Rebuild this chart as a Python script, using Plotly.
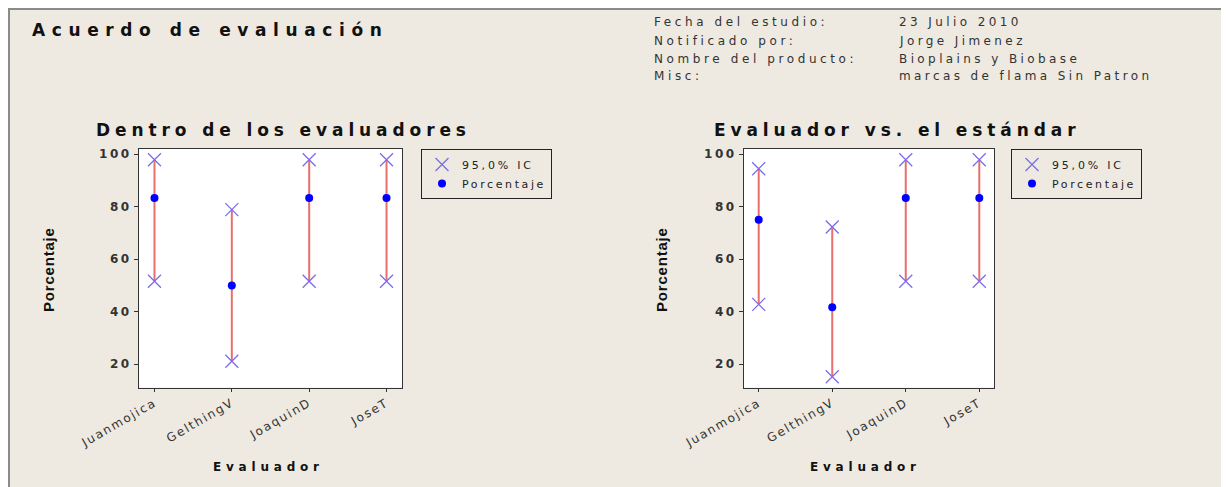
import plotly.graph_objects as go

# ---------------- data ----------------
evaluadores = ["Juanmojica", "GelthingV", "JoaquinD", "JoseT"]

dentro_pct = [83.3, 50.0, 83.3, 83.3]
dentro_lo = [51.6, 21.1, 51.6, 51.6]
dentro_hi = [97.9, 78.9, 97.9, 97.9]

estandar_pct = [75.0, 41.7, 83.3, 83.3]
estandar_lo = [42.8, 15.2, 51.6, 51.6]
estandar_hi = [94.5, 72.3, 97.9, 97.9]

y_ticks = [20, 40, 60, 80, 100]

info_labels = ["Fecha del estudio:", "Notificado por:", "Nombre del producto:", "Misc:"]
info_values = ["23 Julio 2010", "Jorge Jimenez", "Bioplains y Biobase", "marcas de flama Sin Patron"]

main_title = "Acuerdo de evaluación"
sub_titles = ["Dentro de los evaluadores", "Evaluador vs. el estándar"]
legend_names = ["95,0% IC", "Porcentaje"]

# ---------------- style ----------------
OFF = 8                      # page body margin
W, H = 1229 - OFF, 487 - OFF
BG = "#EEEAE1"
LINE_RED = "#E8706C"
X_COL = "#7B6EE8"
DOT_COL = "#0000FF"
FONT = "DejaVu Sans, Verdana, sans-serif"


def sp(text, spacing):
    return f"<span style='letter-spacing:{spacing}px'>{text}</span>"


def px(x):
    return (x - OFF) / W


def py(y):
    return 1 - (y - OFF) / H


fig = go.Figure()

panels = [
    (dentro_pct, dentro_lo, dentro_hi, "x", "y", "legend"),
    (estandar_pct, estandar_lo, estandar_hi, "x2", "y2", "legend2"),
]

for pct, lo, hi, xa, ya, lg in panels:
    lx, ly = [], []
    for c, l, h in zip(evaluadores, lo, hi):
        lx += [c, c, None]
        ly += [l, h, None]
    fig.add_trace(go.Scatter(
        x=lx, y=ly, mode="lines", line=dict(color=LINE_RED, width=2),
        showlegend=False, xaxis=xa, yaxis=ya, hoverinfo="skip"))
    fig.add_trace(go.Scatter(
        x=evaluadores + evaluadores, y=lo + hi, mode="markers",
        marker=dict(symbol="x-thin", size=13, line=dict(color=X_COL, width=1.3)),
        name=sp(legend_names[0], 2.8), legend=lg, xaxis=xa, yaxis=ya))
    fig.add_trace(go.Scatter(
        x=evaluadores, y=pct, mode="markers",
        marker=dict(symbol="circle", size=8, color=DOT_COL),
        name=sp(legend_names[1], 2.6), legend=lg, xaxis=xa, yaxis=ya))

xdomains = [[px(139), px(402)], [px(744), px(994)]]
ydomain = [py(387.5), py(148.5)]

axis_common = dict(showline=True, mirror=True, linecolor="#333333", linewidth=1,
                   showgrid=False, zeroline=False, ticks="outside",
                   tickcolor="#333333", automargin=False)

layout = dict(
    width=W, height=H,
    margin=dict(l=0, r=0, t=0, b=0, autoexpand=False),
    paper_bgcolor=BG, plot_bgcolor="white",
    font=dict(family=FONT, color="#222222"),
    showlegend=True,
)

tick_text_y = [sp(str(v), 2.5) for v in y_ticks]
tick_text_x = [sp(c, 1.8) for c in evaluadores]

for i, suffix in enumerate(["", "2"]):
    layout["xaxis" + suffix] = dict(
        axis_common, domain=xdomains[i], anchor="y" + suffix,
        type="category", categoryorder="array", categoryarray=evaluadores,
        range=[-0.2, 3.2], ticklen=3, tickangle=-30,
        tickvals=evaluadores, ticktext=tick_text_x,
        tickfont=dict(size=12, family=FONT, color="#333333"))
    layout["yaxis" + suffix] = dict(
        axis_common, domain=ydomain, anchor="x" + suffix,
        range=[11.1, 102.2], ticklen=4,
        tickvals=y_ticks, ticktext=tick_text_y,
        tickfont=dict(size=12, family=FONT, color="#333333", weight="bold"))

legend_common = dict(
    bgcolor="rgba(0,0,0,0)", bordercolor="#222222", borderwidth=1,
    font=dict(size=11, family=FONT, color="#222222"),
    xanchor="left", yanchor="top", tracegroupgap=0, itemsizing="trace")
layout["legend"] = dict(legend_common, x=px(421), y=py(149))
layout["legend2"] = dict(legend_common, x=px(1011), y=py(149))

fig.update_layout(**layout)

# outer frame
fig.add_shape(type="rect", xref="paper", yref="paper",
              x0=px(9), x1=px(1226), y0=-0.05, y1=py(9),
              line=dict(color="#8A8A8A", width=2), layer="below")

annotations = []
annotations.append(dict(text=f"<b>{sp(main_title, 6.6)}</b>", x=px(30), y=py(30),
                        xanchor="left", yanchor="middle",
                        font=dict(size=17, family=FONT, color="#111111")))
sub_x = [px(94), px(712)]
for t, xx in zip(sub_titles, sub_x):
    annotations.append(dict(text=f"<b>{sp(t, 4.9)}</b>", x=xx, y=py(130),
                            xanchor="left", yanchor="middle",
                            font=dict(size=17, family=FONT, color="#111111")))
line_y = [22, 41, 59, 76]
for lab, val, yy in zip(info_labels, info_values, line_y):
    annotations.append(dict(text=sp(lab, 3.6), x=px(652), y=py(yy),
                            xanchor="left", yanchor="middle",
                            font=dict(size=12, family=FONT, color="#333333")))
    annotations.append(dict(text=sp(val, 3.4), x=px(897), y=py(yy),
                            xanchor="left", yanchor="middle",
                            font=dict(size=12, family=FONT, color="#333333")))
for xx in [px(48), px(661)]:
    annotations.append(dict(text=f"<b>{sp('Porcentaje', 0.8)}</b>", x=xx, y=py(270),
                            xanchor="center", yanchor="middle", textangle=-90,
                            font=dict(size=15, family="Liberation Sans Narrow, Liberation Sans, Arial", color="#111111")))
for xx in [px(268), px(865)]:
    annotations.append(dict(text=f"<b>{sp('Evaluador', 4.8)}</b>", x=xx, y=py(467),
                            xanchor="center", yanchor="middle",
                            font=dict(size=12, family=FONT, color="#111111")))
for a in annotations:
    a.update(xref="paper", yref="paper", showarrow=False)
fig.update_layout(annotations=annotations)

fig.write_html("out.html")
